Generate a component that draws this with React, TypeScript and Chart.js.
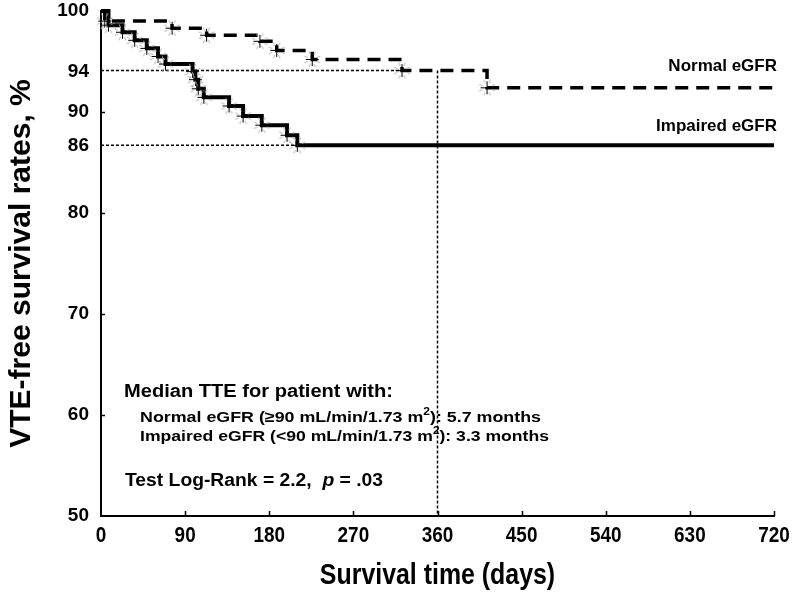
import React, { useEffect, useRef } from "react";
import { Chart, registerables } from "chart.js";

Chart.register(...registerables);

// ---------- data ----------
const xTickValues = [0, 90, 180, 270, 360, 450, 540, 630, 720];
const xTickLabels = ["0", "90", "180", "270", "360", "450", "540", "630", "720"];
const yTickValues = [50, 60, 70, 80, 86.7, 90, 94, 100];
const yTickLabels = ["50", "60", "70", "80", "86", "90", "94", "100"];
const yTickMarks = [60, 70, 80, 90];

const normalDays = [0, 4, 76, 113, 170, 188, 226, 322, 413, 720];
const normalSurv = [100, 99.0, 98.3, 97.6, 97.0, 96.1, 95.2, 94.1, 92.4, 92.4];

const impairedDays = [0, 8, 23, 36, 49, 61, 69, 98, 101, 104, 110, 137, 152, 172, 199, 210, 720];
const impairedSurv = [100, 98.6, 97.9, 97.1, 96.3, 95.5, 94.75, 94.0, 93.2, 92.3, 91.45, 90.6, 89.6, 88.7, 87.7, 86.7, 86.7];

const normalRefDay = 322;
const normalRefSurv = 94.1;
const impairedRefDay = 210;
const impairedRefSurv = 86.7;
const medianLineDay = 360;

const seriesNames = ["Normal eGFR", "Impaired eGFR"];
const xTitle = "Survival time (days)";
const yTitle = "VTE-free survival rates, %";
const annotationHeader = "Median TTE for patient with:";
const annotationNormal = ["Normal eGFR (\u226590 mL/min/1.73 m", "2", "): 5.7 months"];
const annotationImpaired = ["Impaired eGFR (<90 mL/min/1.73 m", "2", "): 3.3 months"];
const annotationTest = ["Test Log-Rank = 2.2,  ", "p", " = .03"];

// ---------- helpers ----------
const FONT = '"Liberation Sans", Arial, Helvetica, sans-serif';

type Seg = { text: string; font: string; dy?: number };

function drawRich(
  ctx: CanvasRenderingContext2D,
  x: number,
  y: number,
  segs: Seg[],
  targetW?: number,
  align: "left" | "center" = "left",
  sxFixed?: number
) {
  let w = 0;
  for (const s of segs) {
    ctx.font = s.font;
    w += ctx.measureText(s.text).width;
  }
  const sx = sxFixed ? sxFixed : targetW ? targetW / w : 1;
  ctx.save();
  ctx.translate(x, y);
  ctx.scale(sx, 1);
  ctx.textAlign = "left";
  ctx.textBaseline = "middle";
  ctx.fillStyle = "#000";
  let cx = align === "center" ? -w / 2 : 0;
  for (const s of segs) {
    ctx.font = s.font;
    ctx.fillText(s.text, cx, s.dy || 0);
    cx += ctx.measureText(s.text).width;
  }
  ctx.restore();
}

function makeMarker(): HTMLCanvasElement {
  const c = document.createElement("canvas");
  c.width = 19;
  c.height = 19;
  const g = c.getContext("2d")!;
  const m = 9.5;
  g.strokeStyle = "#b0b0b0";
  g.lineWidth = 1;
  for (let k = 0; k < 8; k++) {
    const a = (k * Math.PI) / 4 + Math.PI / 8;
    g.beginPath();
    g.moveTo(m + Math.cos(a) * 5, m + Math.sin(a) * 5);
    g.lineTo(m + Math.cos(a) * 8.5, m + Math.sin(a) * 8.5);
    g.stroke();
  }
  g.strokeStyle = "#000";
  g.beginPath();
  g.moveTo(m, 3);
  g.lineTo(m, 16);
  g.moveTo(3, m);
  g.lineTo(16, m);
  g.stroke();
  return c;
}

const overlayPlugin = {
  id: "overlay",
  afterDraw(chart: any) {
    const ctx: CanvasRenderingContext2D = chart.ctx;
    const xs = chart.scales.x;
    const ys = chart.scales.y;
    const area = chart.chartArea;
    ctx.save();
    ctx.strokeStyle = "#000";
    ctx.lineWidth = 1.5;
    for (const v of xTickValues) {
      if (v === 0) continue;
      const px = Math.round(xs.getPixelForValue(v)) + 0.5;
      ctx.beginPath();
      ctx.moveTo(px, area.bottom);
      ctx.lineTo(px, area.bottom - 5);
      ctx.stroke();
    }
    for (const v of yTickMarks) {
      const py = Math.round(ys.getPixelForValue(v)) + 0.5;
      ctx.beginPath();
      ctx.moveTo(area.left, py);
      ctx.lineTo(area.left + 4, py);
      ctx.stroke();
    }

    // x tick labels (condensed bold) and x title
    const tickFont = `bold 22px ${FONT}`;
    xTickValues.forEach((v, i) => {
      drawRich(ctx, xs.getPixelForValue(v), area.bottom + 20, [{ text: xTickLabels[i], font: tickFont }], undefined, "center", 0.86);
    });
    drawRich(ctx, (area.left + area.right) / 2, 576, [{ text: xTitle, font: `bold 30px ${FONT}` }], undefined, "center", 0.83);

    // series labels
    ctx.fillStyle = "#000";
    ctx.font = `bold 17px ${FONT}`;
    ctx.textAlign = "right";
    ctx.textBaseline = "middle";
    const yN = ys.getPixelForValue(normalSurv[normalSurv.length - 1]);
    const yI = ys.getPixelForValue(impairedSurv[impairedSurv.length - 1]);
    ctx.fillText(seriesNames[0], 777, yN - 21);
    ctx.fillText(seriesNames[1], 777, yI - 19);

    // annotation block
    const bBig = `bold 17.5px ${FONT}`;
    const bSub = `bold 15.5px ${FONT}`;
    const sup = `bold 10.5px ${FONT}`;
    drawRich(ctx, 124, 392, [{ text: annotationHeader, font: bBig }], 269);
    drawRich(
      ctx,
      140,
      418,
      [
        { text: annotationNormal[0], font: bSub },
        { text: annotationNormal[1], font: sup, dy: -6 },
        { text: annotationNormal[2], font: bSub },
      ],
      401
    );
    drawRich(
      ctx,
      140,
      437,
      [
        { text: annotationImpaired[0], font: bSub },
        { text: annotationImpaired[1], font: sup, dy: -6 },
        { text: annotationImpaired[2], font: bSub },
      ],
      409
    );
    drawRich(
      ctx,
      125,
      481,
      [
        { text: annotationTest[0], font: bBig },
        { text: annotationTest[1], font: `italic bold 17.5px ${FONT}` },
        { text: annotationTest[2], font: bBig },
      ],
      258
    );
    ctx.restore();
  },
};

export default function App() {
  const ref = useRef<HTMLCanvasElement | null>(null);

  useEffect(() => {
    document.body.style.margin = "0";
    const canvas = ref.current!;
    const marker = makeMarker();
    const toPts = (xs: number[], ys: number[]) => xs.map((x, i) => ({ x, y: ys[i] }));
    const markerRadius = (n: number) => (c: any) => (c.dataIndex === 0 || c.dataIndex === n - 1 ? 0 : 6);

    const chart = new Chart(canvas, {
      type: "line",
      data: {
        datasets: [
          {
            label: seriesNames[0],
            data: toPts(normalDays, normalSurv),
            stepped: "before",
            borderColor: "#000",
            borderWidth: 3.5,
            borderDash: [13, 8],
            borderCapStyle: "butt",
            pointStyle: marker as any,
            pointRadius: markerRadius(normalDays.length) as any,
            fill: false,
            clip: false as any,
            order: 1,
          },
          {
            label: seriesNames[1],
            data: toPts(impairedDays, impairedSurv),
            stepped: "before",
            borderColor: "#000",
            borderWidth: 4,
            pointStyle: marker as any,
            pointRadius: markerRadius(impairedDays.length) as any,
            fill: false,
            clip: false as any,
            order: 1,
          },
          {
            label: "ref94",
            data: [
              { x: 0, y: normalRefSurv },
              { x: normalRefDay, y: normalRefSurv },
            ],
            borderColor: "#000",
            borderWidth: 1.5,
            borderDash: [3, 2],
            pointRadius: 0,
            order: 3,
          },
          {
            label: "ref86",
            data: [
              { x: 0, y: impairedRefSurv },
              { x: impairedRefDay, y: impairedRefSurv },
            ],
            borderColor: "#000",
            borderWidth: 1.5,
            borderDash: [3, 2],
            pointRadius: 0,
            order: 3,
          },
          {
            label: "median",
            data: [
              { x: medianLineDay, y: normalRefSurv },
              { x: medianLineDay, y: 50 },
            ],
            borderColor: "#000",
            borderWidth: 1.5,
            borderDash: [3, 2],
            pointRadius: 0,
            order: 3,
          },
        ],
      },
      options: {
        animation: false,
        responsive: false,
        maintainAspectRatio: false,
        layout: { padding: { left: 0, right: 18, top: 11, bottom: 0 } },
        plugins: { legend: { display: false }, tooltip: { enabled: false } },
        scales: {
          x: {
            type: "linear",
            min: 0,
            max: 720,
            afterBuildTicks: (s: any) => {
              s.ticks = xTickValues.map((v) => ({ value: v }));
            },
            afterFit: (s: any) => {
              s.height = 76;
              s.paddingLeft = 0;
              s.paddingRight = 0;
            },
            ticks: { display: false },
            grid: { display: false, drawTicks: false },
            border: { display: true, color: "#000", width: 2 },
            title: { display: false },
          },
          y: {
            type: "linear",
            min: 50,
            max: 100,
            afterBuildTicks: (s: any) => {
              s.ticks = yTickValues.map((v) => ({ value: v }));
            },
            afterFit: (s: any) => {
              s.width = 101;
              s.paddingTop = 0;
              s.paddingBottom = 0;
            },
            ticks: {
              autoSkip: false,
              padding: 12,
              color: "#000",
              font: { family: FONT, size: 19, weight: "bold" },
              callback: (v: any) => {
                const i = yTickValues.indexOf(Number(v));
                return i >= 0 ? yTickLabels[i] : "";
              },
            },
            grid: { display: false, drawTicks: false },
            border: { display: true, color: "#000", width: 2 },
            title: {
              display: true,
              text: yTitle,
              color: "#000",
              font: { family: FONT, size: 30, weight: "bold" },
              padding: { top: 4, bottom: 0 },
            },
          },
        },
      },
      plugins: [overlayPlugin],
    });
    return () => chart.destroy();
  }, []);

  return <canvas ref={ref} width={792} height={592} style={{ display: "block" }} />;
}
